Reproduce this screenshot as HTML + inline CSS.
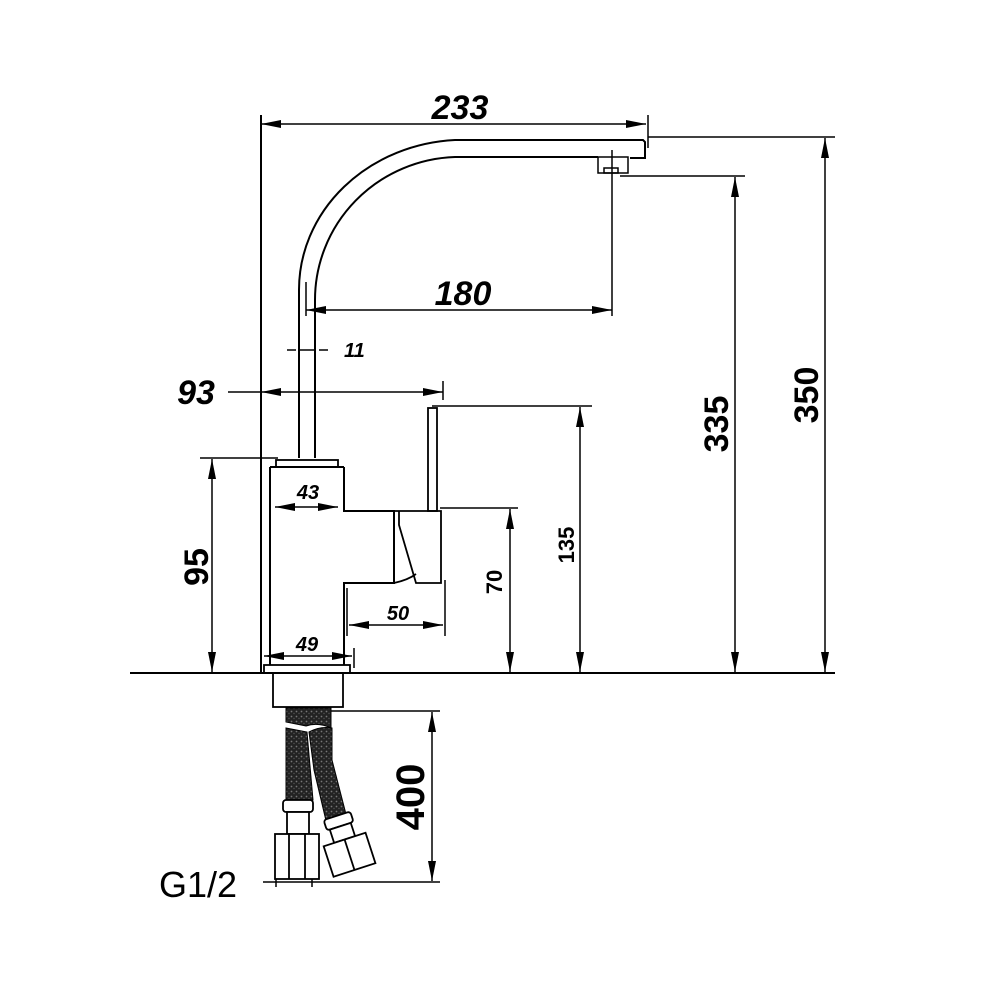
<!DOCTYPE html>
<html><head><style>html,body{margin:0;padding:0;background:#fff}svg{display:block}</style></head>
<body>
<svg width="1000" height="1000" viewBox="0 0 1000 1000" xmlns="http://www.w3.org/2000/svg" font-family="Liberation Sans, sans-serif">
<defs>
<marker id="a" viewBox="0 0 20 8" refX="20" refY="4" markerWidth="20" markerHeight="8" markerUnits="userSpaceOnUse" orient="auto-start-reverse"><path d="M0,0 L20,4 L0,8 z" fill="#000"/></marker>
<pattern id="braid" width="5" height="5" patternUnits="userSpaceOnUse"><rect width="5" height="5" fill="#222"/><circle cx="1.5" cy="1.5" r="0.9" fill="#777"/><circle cx="4" cy="3.5" r="0.7" fill="#555"/></pattern>
</defs>
<g stroke="#000" stroke-width="2" fill="none">
<line x1="130" y1="673" x2="835" y2="673"/>
<line x1="261" y1="115" x2="261" y2="673"/>
<line x1="648" y1="115" x2="648" y2="148" stroke-width="1.5"/>
<line x1="648" y1="137" x2="835" y2="137" stroke-width="1.5"/>
<line x1="612" y1="150" x2="612" y2="316" stroke-width="1.5"/>
<line x1="620" y1="176" x2="745" y2="176" stroke-width="1.5"/>
<line x1="432" y1="406" x2="592" y2="406" stroke-width="1.5"/>
<line x1="440" y1="508" x2="518" y2="508" stroke-width="1.5"/>
<line x1="200" y1="458" x2="278" y2="458" stroke-width="1.5"/>
<line x1="228" y1="392" x2="261" y2="392" stroke-width="1.5"/>
<line x1="443" y1="381" x2="443" y2="400" stroke-width="1.5"/>
<line x1="306" y1="282" x2="306" y2="316" stroke-width="1.5"/>
<line x1="347" y1="588" x2="347" y2="636" stroke-width="1.5"/>
<line x1="445" y1="580" x2="445" y2="636" stroke-width="1.5"/>
<line x1="354" y1="648" x2="354" y2="668" stroke-width="1.5"/>
<line x1="330" y1="711" x2="440" y2="711" stroke-width="1.5"/>
<line x1="322" y1="882" x2="440" y2="882" stroke-width="1.5"/>
<g stroke-width="1.5">
<line x1="261" y1="124" x2="646" y2="124" marker-start="url(#a)" marker-end="url(#a)"/>
<line x1="306" y1="310" x2="612" y2="310" marker-start="url(#a)" marker-end="url(#a)"/>
<line x1="261" y1="392" x2="443" y2="392" marker-start="url(#a)" marker-end="url(#a)"/>
<line x1="275" y1="507" x2="338" y2="507" marker-start="url(#a)" marker-end="url(#a)"/>
<line x1="264" y1="656" x2="352" y2="656" marker-start="url(#a)" marker-end="url(#a)"/>
<line x1="349" y1="625" x2="443" y2="625" marker-start="url(#a)" marker-end="url(#a)"/>
<line x1="510" y1="509" x2="510" y2="672" marker-start="url(#a)" marker-end="url(#a)"/>
<line x1="580" y1="407" x2="580" y2="672" marker-start="url(#a)" marker-end="url(#a)"/>
<line x1="735" y1="177" x2="735" y2="672" marker-start="url(#a)" marker-end="url(#a)"/>
<line x1="825" y1="138" x2="825" y2="672" marker-start="url(#a)" marker-end="url(#a)"/>
<line x1="212" y1="459" x2="212" y2="672" marker-start="url(#a)" marker-end="url(#a)"/>
<line x1="432" y1="712" x2="432" y2="881" marker-start="url(#a)" marker-end="url(#a)"/>
<line x1="263" y1="882" x2="322" y2="882"/>
<line x1="276" y1="877" x2="276" y2="887"/><line x1="312" y1="877" x2="312" y2="887"/>
<line x1="287" y1="350" x2="296" y2="350"/><line x1="299" y1="350" x2="315" y2="350"/><line x1="319" y1="350" x2="328" y2="350"/>
</g>
<path d="M299,458 L299,290 A165,150 0 0 1 455,140 L643,140 L645,142 L645,158 L630,158"/>
<path d="M315,458 L315,300 A145,143 0 0 1 455,157 L598,157"/>
<rect x="598" y="157" width="30" height="16" stroke-width="1.5"/>
<rect x="604" y="168" width="14" height="5" stroke-width="1.5"/>
<rect x="428" y="408" width="9" height="103" stroke-width="1.8"/>
<rect x="276" y="460" width="62" height="7" stroke-width="1.8"/>
<path d="M270,467 L270,665 M344,467 L344,511 L394,511 L394,583 L344,583 L344,665 M270,467 L344,467"/>
<path d="M399,511 L441,511 L441,583 L416,583 L399,525 Z M394,511 L399,511 M394,583 Q408,580 416,574" stroke-width="1.8"/>
<rect x="264" y="665" width="86" height="8" stroke-width="1.8"/>
<rect x="273" y="673" width="70" height="34" stroke-width="1.8"/>
</g>
<path d="M286,708 L331,708 L331,728 Q318,722 306,726 L286,722 Z" fill="url(#braid)" stroke="#000" stroke-width="1"/>
<path d="M286,728 L307,732 L313,800 L286,800 Z" fill="url(#braid)" stroke="#000" stroke-width="1"/>
<path d="M309,732 Q320,726 332,728 L332,760 L347,818 L327,825 L314,770 Z" fill="url(#braid)" stroke="#000" stroke-width="1"/>
<g stroke="#000" stroke-width="1.8" fill="#fff">
<rect x="283" y="800" width="30" height="12" rx="3"/>
<rect x="287" y="812" width="22" height="22"/>
<rect x="275" y="834" width="44" height="45"/>
<line x1="289" y1="834" x2="289" y2="879"/>
<line x1="305" y1="834" x2="305" y2="879"/>
<g transform="translate(348,850) rotate(-18)">
<rect x="-14" y="-36" width="28" height="11" rx="3"/>
<rect x="-11" y="-25" width="22" height="14"/>
<rect x="-22" y="-11" width="44" height="32"/>
<line x1="0" y1="-11" x2="0" y2="21"/>
</g>
</g>
<g font-weight="bold" font-style="italic" fill="#000" text-anchor="middle">
<text x="460" y="119" font-size="34">233</text>
<text x="463" y="305" font-size="34">180</text>
<text x="196" y="404" font-size="34">93</text>
<text x="344" y="357" font-size="20" text-anchor="start">11</text>
<text x="308" y="499" font-size="20">43</text>
<text x="307" y="651" font-size="20">49</text>
<text x="398" y="620" font-size="20">50</text>
</g>
<g font-weight="bold" fill="#000" text-anchor="middle">
<text transform="translate(208,567) rotate(-90)" font-size="34">95</text>
<text transform="translate(502,582) rotate(-90)" font-size="22">70</text>
<text transform="translate(574,545) rotate(-90)" font-size="22">135</text>
<text transform="translate(728,424) rotate(-90)" font-size="34">335</text>
<text transform="translate(818,395) rotate(-90)" font-size="34">350</text>
<text transform="translate(424,797) rotate(-90)" font-size="40">400</text>
</g>
<text x="159" y="897" font-size="36" fill="#000">G1/2</text>
</svg>
</body></html>
